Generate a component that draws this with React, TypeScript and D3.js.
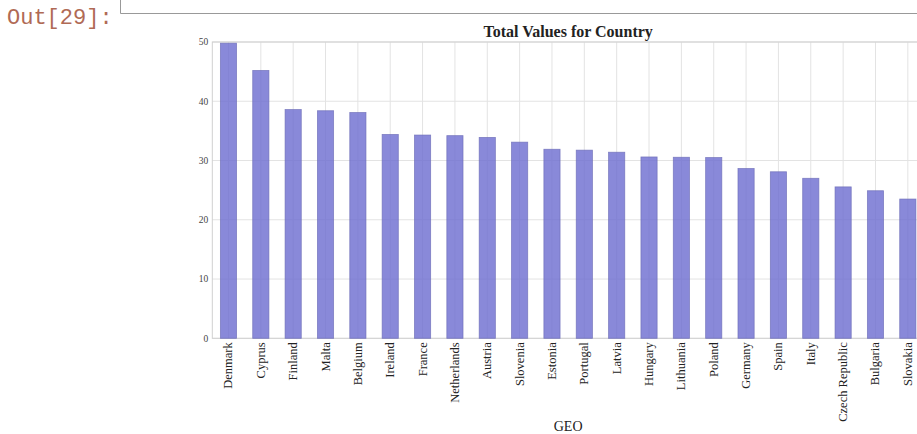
import React, { useEffect, useRef } from "react";
import * as d3 from "d3";

const countries = [
  "Denmark", "Cyprus", "Finland", "Malta", "Belgium", "Ireland", "France",
  "Netherlands", "Austria", "Slovenia", "Estonia", "Portugal", "Latvia",
  "Hungary", "Lithuania", "Poland", "Germany", "Spain", "Italy",
  "Czech Republic", "Bulgaria", "Slovakia",
];
const totals = [
  49.8, 45.2, 38.6, 38.4, 38.1, 34.4, 34.3, 34.2, 33.9, 33.1, 31.9, 31.75,
  31.4, 30.6, 30.55, 30.5, 28.65, 28.1, 27.0, 25.55, 24.9, 23.5,
];
const yTicks = [0, 10, 20, 30, 40, 50];

const W = 917;
const H = 434;
const margin = { top: 42, left: 212.3, bottom: 338.3, right: 924 };

export default function App() {
  const ref = useRef<SVGSVGElement>(null);

  useEffect(() => {
    const svg = d3.select(ref.current);
    svg.selectAll("*").remove();

    const data = countries.map((c, i) => ({ c, v: totals[i] }));

    const x = d3
      .scaleBand()
      .domain(countries)
      .range([margin.left, margin.right])
      .paddingInner(0.5)
      .paddingOuter(0.25);

    const y = d3.scaleLinear().domain([0, 50]).range([margin.bottom, margin.top]);

    // notebook prompt + output box border
    svg
      .append("text")
      .attr("x", 7)
      .attr("y", 24)
      .attr("font-family", "Liberation Mono, monospace")
      .attr("font-size", 22)
      .attr("fill", "#b06a55")
      .text("Out[29]:");
    svg
      .append("path")
      .attr("d", `M120.5,0 V13.5 H${W}`)
      .attr("fill", "none")
      .attr("stroke", "#999")
      .attr("stroke-width", 1);

    const g = svg.append("g");

    // grid
    g.selectAll(".hgrid")
      .data(yTicks)
      .join("line")
      .attr("x1", margin.left)
      .attr("x2", margin.right)
      .attr("y1", (d) => y(d))
      .attr("y2", (d) => y(d))
      .attr("stroke", "#e3e3e3")
      .attr("stroke-width", 1);
    g.selectAll(".vgrid")
      .data(countries)
      .join("line")
      .attr("x1", (d) => x(d)! + x.bandwidth() / 2)
      .attr("x2", (d) => x(d)! + x.bandwidth() / 2)
      .attr("y1", margin.top)
      .attr("y2", margin.bottom)
      .attr("stroke", "#e3e3e3")
      .attr("stroke-width", 1);

    // frame
    g.append("rect")
      .attr("x", margin.left)
      .attr("y", margin.top)
      .attr("width", margin.right - margin.left)
      .attr("height", margin.bottom - margin.top)
      .attr("fill", "none")
      .attr("stroke", "#d0d0d0")
      .attr("stroke-width", 1);

    // bars (semi-transparent, grid shows through)
    g.selectAll(".bar")
      .data(data)
      .join("rect")
      .attr("x", (d) => x(d.c)!)
      .attr("y", (d) => y(d.v))
      .attr("width", x.bandwidth())
      .attr("height", (d) => y(0) - y(d.v))
      .attr("fill", "rgb(108,108,208)")
      .attr("fill-opacity", 0.8)
      .attr("stroke", "#6e6eb8")
      .attr("stroke-opacity", 0.8)
      .attr("stroke-width", 0.8);

    // y tick labels
    g.selectAll(".ylab")
      .data(yTicks)
      .join("text")
      .attr("x", margin.left - 4)
      .attr("y", (d) => y(d))
      .attr("dy", "0.35em")
      .attr("text-anchor", "end")
      .attr("font-family", "Liberation Serif, serif")
      .attr("font-size", 9.5)
      .attr("fill", "#444")
      .text((d) => d);

    // x tick labels
    g.selectAll(".xlab")
      .data(countries)
      .join("text")
      .attr(
        "transform",
        (d) => `translate(${x(d)! + x.bandwidth() / 2 + 4},${margin.bottom + 4}) rotate(-90)`
      )
      .attr("text-anchor", "end")
      .attr("font-family", "Liberation Serif, serif")
      .attr("font-size", 12.5)
      .attr("fill", "#222")
      .text((d) => d);

    // title
    g.append("text")
      .attr("x", (margin.left + margin.right) / 2)
      .attr("y", 37)
      .attr("text-anchor", "middle")
      .attr("font-family", "Liberation Serif, serif")
      .attr("font-weight", "bold")
      .attr("font-size", 16)
      .attr("fill", "#222")
      .text("Total Values for Country");

    // x axis label
    g.append("text")
      .attr("x", (margin.left + margin.right) / 2)
      .attr("y", 431)
      .attr("text-anchor", "middle")
      .attr("font-family", "Liberation Serif, serif")
      .attr("font-size", 14)
      .attr("fill", "#222")
      .text("GEO");
  }, []);

  return (
    <svg
      ref={ref}
      width={W}
      height={H}
      style={{ position: "absolute", left: 0, top: 0, background: "#fff" }}
    />
  );
}
